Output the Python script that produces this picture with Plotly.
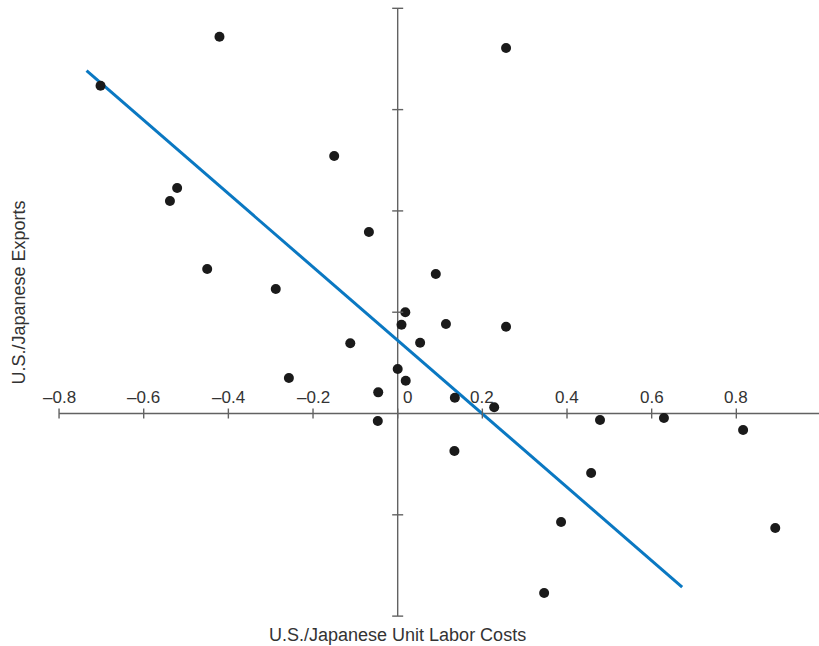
import plotly.graph_objects as go

# Scatter data
labor_costs = [-0.702, -0.421, 0.256, -0.150, -0.521, -0.538, -0.068, -0.450, 0.090, -0.288,
               0.018, 0.009, 0.114, 0.256, -0.112, 0.053, 0.000, 0.019, -0.257, -0.046,
               0.135, 0.228, -0.047, 0.478, 0.629, 0.816, 0.134, 0.457, 0.386, 0.892, 0.346]
exports = [3.236, 3.720, 3.608, 2.542, 2.226, 2.098, 1.792, 1.426, 1.377, 1.229,
           0.999, 0.877, 0.884, 0.857, 0.693, 0.699, 0.439, 0.324, 0.350, 0.209,
           0.156, 0.061, -0.074, -0.064, -0.044, -0.163, -0.370, -0.587, -1.071, -1.130, -1.772]

# Fitted line endpoints
fit_x = [-0.735, 0.672]
fit_y = [3.384, -1.713]

# Axis ticks
x_ticks = [-0.8, -0.6, -0.4, -0.2, 0.0, 0.2, 0.4, 0.6, 0.8, 1.0]
x_tick_labels = ["\u20130.8", "\u20130.6", "\u20130.4", "\u20130.2", "0", "0.2", "0.4", "0.6", "0.8", "1"]
y_ticks = [-2, -1, 1, 2, 3, 4]
x_axis_extent = [-0.8, 1.05]
y_axis_extent = [-2, 4]

AXIS_COLOR = "#626262"
TEXT_COLOR = "#333333"
FONT = "Liberation Sans, Arial, sans-serif"

fig = go.Figure()

# axes lines
fig.add_trace(go.Scatter(x=x_axis_extent, y=[0, 0], mode="lines",
                         line=dict(color=AXIS_COLOR, width=1.4), hoverinfo="skip", showlegend=False))
fig.add_trace(go.Scatter(x=[0, 0], y=y_axis_extent, mode="lines",
                         line=dict(color=AXIS_COLOR, width=1.4), hoverinfo="skip", showlegend=False))

# regression line
fig.add_trace(go.Scatter(x=fit_x, y=fit_y, mode="lines",
                         line=dict(color="#0a78c2", width=3), hoverinfo="skip", showlegend=False))

# points
fig.add_trace(go.Scatter(x=labor_costs, y=exports, mode="markers",
                         marker=dict(color="#1a1a1a", size=10, line=dict(width=0)),
                         showlegend=False))

shapes = []
for xv in x_ticks:
    shapes.append(dict(type="line", xref="x", yref="y", ysizemode="pixel", yanchor=0,
                       x0=xv, x1=xv, y0=-5, y1=5, line=dict(color=AXIS_COLOR, width=1.4)))
for yv in y_ticks:
    shapes.append(dict(type="line", xref="x", yref="y", xsizemode="pixel", xanchor=0,
                       x0=-5.5, x1=5.5, y0=yv, y1=yv, line=dict(color=AXIS_COLOR, width=1.4)))

annotations = []
for xv, lab in zip(x_ticks, x_tick_labels):
    annotations.append(dict(x=xv, y=0, xref="x", yref="y", text=lab, showarrow=False,
                            yshift=16, xshift=(10 if xv == 0 else 0),
                            font=dict(family=FONT, size=17, color=TEXT_COLOR)))

annotations.append(dict(x=0, y=0, xref="x", yref="y", text="U.S./Japanese Unit Labor Costs",
                        showarrow=False, yshift=-221, font=dict(family=FONT, size=18, color=TEXT_COLOR)))
annotations.append(dict(x=0, y=0, xref="paper", yref="y", text="U.S./Japanese Exports",
                        showarrow=False, textangle=-90, xanchor="center", yanchor="middle",
                        xshift=19, yshift=121,
                        font=dict(family=FONT, size=18, color=TEXT_COLOR)))

fig.update_layout(
    width=819, height=646,
    margin=dict(l=0, r=0, t=0, b=0),
    paper_bgcolor="white", plot_bgcolor="white",
    xaxis=dict(range=[-0.9395, 0.9953], visible=False, fixedrange=True),
    yaxis=dict(range=[-2.295, 4.082], visible=False, fixedrange=True),
    shapes=shapes, annotations=annotations,
)

fig.write_html("out.html", config={"displayModeBar": False},
               post_script="document.body.style.margin='0';")
